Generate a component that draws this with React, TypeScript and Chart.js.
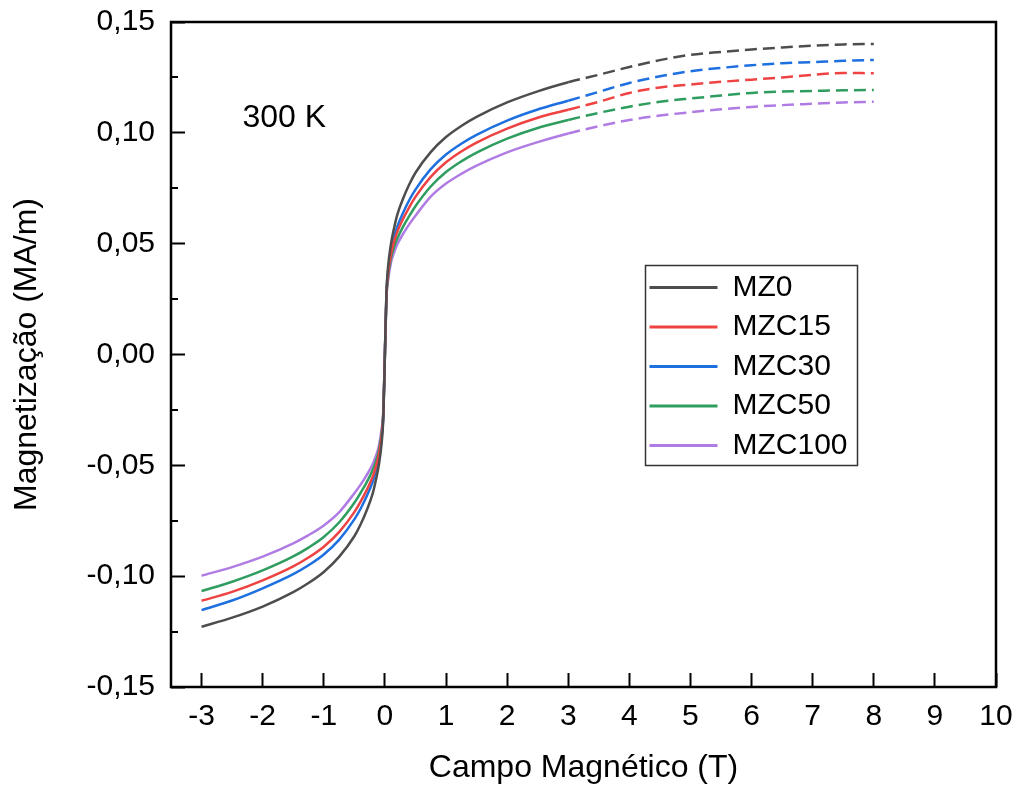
import React, { useEffect, useRef } from 'react';
import { Chart, registerables } from 'chart.js';

Chart.register(...registerables);

// Campo magnético (T)
const FIELD = [
  -3, -2.5, -2, -1.5, -1.25, -1, -0.75, -0.5, -0.4, -0.3, -0.2, -0.15, -0.1, -0.05, -0.025,
  0,
  0.025, 0.05, 0.1, 0.15, 0.2, 0.3, 0.4, 0.5, 0.75, 1, 1.25, 1.5, 2, 2.5, 3,
  3.5, 4, 4.5, 5, 5.5, 6, 6.5, 7, 7.5, 8,
];

// Magnetização (MA/m)
const MZ0 = [
  -0.1228, -0.1187, -0.1137, -0.1072, -0.1031, -0.0981, -0.0913, -0.082, -0.0768, -0.0705, -0.0628, -0.057, -0.05, -0.039, -0.028,
  0,
  0.028, 0.039, 0.05, 0.057, 0.0628, 0.0705, 0.0768, 0.082, 0.0913, 0.0981, 0.1031, 0.1072, 0.1137, 0.1187, 0.1228,
  0.1262, 0.1297, 0.1328, 0.1352, 0.1365, 0.1376, 0.1385, 0.1393, 0.1399, 0.1401,
];
const MZC15 = [
  -0.1111, -0.1071, -0.1019, -0.0956, -0.0916, -0.0867, -0.0801, -0.0711, -0.0665, -0.0613, -0.0551, -0.0509, -0.0453, -0.0359, -0.0264,
  0,
  0.0264, 0.0359, 0.0453, 0.0509, 0.0551, 0.0613, 0.0665, 0.0711, 0.0801, 0.0867, 0.0916, 0.0956, 0.1019, 0.1068, 0.1104,
  0.114, 0.118, 0.1205, 0.1218, 0.123, 0.124, 0.125, 0.1262, 0.127, 0.1269,
];
const MZC30 = [
  -0.1153, -0.111, -0.1055, -0.0991, -0.0951, -0.0902, -0.0836, -0.0744, -0.0697, -0.0641, -0.0575, -0.0528, -0.0468, -0.0368, -0.0269,
  0,
  0.0269, 0.0368, 0.0468, 0.0528, 0.0575, 0.0641, 0.0697, 0.0744, 0.0836, 0.0902, 0.0951, 0.0991, 0.1055, 0.1105, 0.1145,
  0.1185, 0.1225, 0.1255, 0.1278, 0.1293, 0.1305, 0.1314, 0.1319, 0.1325, 0.1329,
];
const MZC50 = [
  -0.1067, -0.1025, -0.0974, -0.0911, -0.0871, -0.0823, -0.0758, -0.0669, -0.0625, -0.0578, -0.0521, -0.0485, -0.0435, -0.0347, -0.0258,
  0,
  0.0258, 0.0347, 0.0435, 0.0485, 0.0521, 0.0578, 0.0625, 0.0669, 0.0758, 0.0823, 0.0871, 0.0911, 0.0974, 0.1022, 0.1058,
  0.109, 0.1118, 0.114, 0.1155, 0.1168, 0.118, 0.1186, 0.1189, 0.1192, 0.1193,
];
const MZC100 = [
  -0.0998, -0.0959, -0.0912, -0.0852, -0.0815, -0.0771, -0.0712, -0.0626, -0.0588, -0.0545, -0.0495, -0.046, -0.0415, -0.033, -0.025,
  0,
  0.025, 0.033, 0.0415, 0.046, 0.0495, 0.0545, 0.0588, 0.0626, 0.0712, 0.0771, 0.0815, 0.0852, 0.0912, 0.0958, 0.0997,
  0.103, 0.1058, 0.1078, 0.1093, 0.1106, 0.1117, 0.1125, 0.1131, 0.1137, 0.114,
];

const SERIES_NAMES = ['MZ0', 'MZC15', 'MZC30', 'MZC50', 'MZC100'];
const SERIES_VALUES = [MZ0, MZC15, MZC30, MZC50, MZC100];
const SERIES_COLORS = ['#4d4d4d', '#ef4343', '#1e6fdf', '#2e9d5f', '#b07ce4'];

const X_TICKS = [-3, -2, -1, 0, 1, 2, 3, 4, 5, 6, 7, 8, 9, 10];
const Y_TICKS = [-0.15, -0.1, -0.05, 0, 0.05, 0.1, 0.15];
const Y_MINOR_TICKS = [-0.125, -0.075, -0.025, 0.025, 0.075, 0.125];
const DASH_FROM = 3;

const TEMP_LABEL = '300 K';
const TEMP_AT = { x: -2.33, y: 0.1067 };

const FONT = '"Liberation Sans", Arial, Helvetica, sans-serif';

const extrasPlugin = {
  id: 'extras',
  afterLayout(chart: any) {
    const lg = chart.legend;
    if (lg) {
      lg.left = 640;
      lg.top = 263;
      lg.right = 862;
      lg.bottom = 475;
    }
  },
  afterDraw(chart: any) {
    const { ctx, chartArea: a, scales } = chart;
    ctx.save();
    // frame
    ctx.strokeStyle = '#000';
    ctx.lineWidth = 2.5;
    ctx.strokeRect(a.left, a.top, a.right - a.left, a.bottom - a.top);
    // minor y ticks
    ctx.lineWidth = 2;
    Y_MINOR_TICKS.forEach((v) => {
      const py = Math.round(scales.y.getPixelForValue(v));
      ctx.beginPath();
      ctx.moveTo(a.left, py);
      ctx.lineTo(a.left + 7, py);
      ctx.stroke();
    });
    // legend frame
    ctx.lineWidth = 1.5;
    ctx.strokeStyle = '#333';
    ctx.strokeRect(645.5, 265.5, 212, 200);
    // temperature label
    ctx.fillStyle = '#000';
    ctx.font = `32px ${FONT}`;
    ctx.textAlign = 'left';
    ctx.textBaseline = 'middle';
    ctx.fillText(TEMP_LABEL, scales.x.getPixelForValue(TEMP_AT.x), scales.y.getPixelForValue(TEMP_AT.y));
    ctx.restore();
  },
};

export default function App() {
  const canvasRef = useRef<HTMLCanvasElement | null>(null);

  useEffect(() => {
    const canvas = canvasRef.current;
    if (!canvas) return;
    const datasets = SERIES_NAMES.map((name, i) => ({
      label: name,
      data: FIELD.map((x, j) => ({ x, y: SERIES_VALUES[i][j] })),
      borderColor: SERIES_COLORS[i],
      backgroundColor: SERIES_COLORS[i],
      borderWidth: 2.5,
      pointRadius: 0,
      pointHoverRadius: 0,
      cubicInterpolationMode: 'monotone' as const,
      fill: false,
      segment: {
        borderDash: (c: any) => (c.p0.parsed.x >= DASH_FROM ? [12, 6] : undefined),
      },
    }));

    const chart = new Chart(canvas, {
      type: 'line',
      data: { datasets },
      plugins: [extrasPlugin],
      options: {
        animation: false,
        responsive: true,
        maintainAspectRatio: false,
        events: [],
        layout: { padding: { left: 0, top: 22, right: 20, bottom: 0 } },
        scales: {
          x: {
            type: 'linear',
            min: -3.5,
            max: 10,
            afterBuildTicks: (scale: any) => {
              scale.ticks = X_TICKS.map((v) => ({ value: v }));
            },
            afterFit: (scale: any) => {
              scale.height = 102;
              scale.paddingLeft = 0;
              scale.paddingRight = 0;
              scale.paddingTop = 0;
              scale.paddingBottom = 0;
            },
            border: { display: false },
            grid: {
              display: true,
              drawOnChartArea: false,
              drawTicks: true,
              tickLength: -14,
              tickWidth: 2,
              tickColor: '#000',
            },
            ticks: {
              autoSkip: false,
              maxRotation: 0,
              color: '#000',
              padding: 26,
              font: { family: FONT, size: 30 },
              callback: (v: any) => String(v),
            },
            title: {
              display: true,
              text: 'Campo Magnético (T)',
              color: '#000',
              font: { family: FONT, size: 32 },
              padding: { top: 0, bottom: 2 },
            },
          },
          y: {
            type: 'linear',
            min: -0.15,
            max: 0.15,
            afterBuildTicks: (scale: any) => {
              scale.ticks = Y_TICKS.map((v) => ({ value: v }));
            },
            afterFit: (scale: any) => {
              scale.width = 171;
              scale.paddingLeft = 0;
              scale.paddingRight = 0;
              scale.paddingTop = 0;
              scale.paddingBottom = 0;
            },
            border: { display: false },
            grid: {
              display: true,
              drawOnChartArea: false,
              drawTicks: true,
              tickLength: -14,
              tickWidth: 2,
              tickColor: '#000',
            },
            ticks: {
              autoSkip: false,
              color: '#000',
              padding: 30,
              font: { family: FONT, size: 30 },
              callback: (v: any) => Number(v).toFixed(2).replace('.', ',').replace('-0,00', '0,00'),
            },
            title: {
              display: true,
              text: 'Magnetização (MA/m)',
              color: '#000',
              font: { family: FONT, size: 32 },
              padding: { top: 8, bottom: 0 },
            },
          },
        },
        plugins: {
          tooltip: { enabled: false },
          title: { display: false },
          legend: {
            display: true,
            position: 'chartArea' as any,
            align: 'start',
            labels: {
              color: '#000',
              font: { family: FONT, size: 30 },
              boxWidth: 68,
              boxHeight: 3,
              padding: 9.5,
              generateLabels: (c: any) =>
                (Chart.defaults.plugins.legend.labels as any)
                  .generateLabels(c)
                  .map((it: any) => ({ ...it, lineWidth: 0, fillStyle: it.strokeStyle })),
            },
          },
        },
      } as any,
    });

    return () => chart.destroy();
  }, []);

  return (
    <div style={{ position: 'fixed', left: 0, top: 0, width: '1016px', height: '789px', background: '#fff' }}>
      <canvas ref={canvasRef} />
    </div>
  );
}
